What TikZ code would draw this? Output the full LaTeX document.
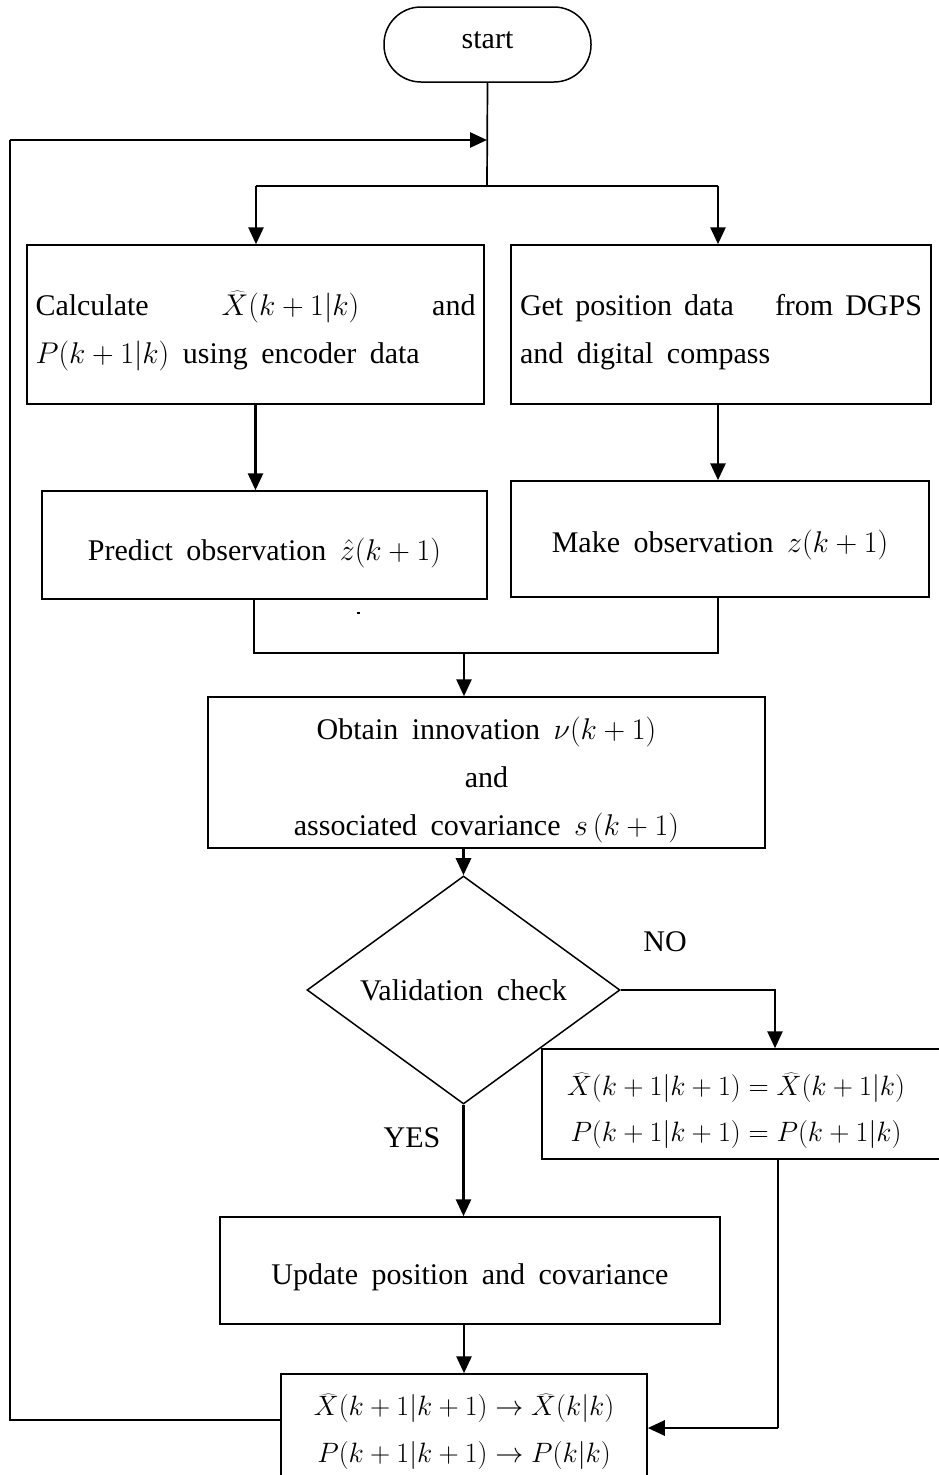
\RequirePackage{fix-cm}
\documentclass[tikz,border=0pt]{standalone}
\usepackage[no-math]{fontspec}
\setmainfont{Liberation Serif}
\usetikzlibrary{arrows.meta,shapes.geometric}
\newcommand{\fsz}{\fontsize{30}{48}\selectfont\spaceskip=0.45em plus 0.05em\relax}
\newcommand{\msz}{\fontsize{28}{46}\selectfont}
% text block moved down by #1 without changing the node's measured size
\newcommand{\lowtxt}[2][5pt]{\raisebox{-#1}[\height][\depth]{\begin{tabular}{@{}c@{}}#2\end{tabular}}}
\begin{document}
\begin{tikzpicture}[x=1pt,y=-1pt,
  box/.style={draw, line width=1.5pt, inner sep=0pt, font=\fsz},
  thinln/.style={line width=1.7pt},
  arr/.style={line width=2.8pt, -{Triangle[length=17pt,width=15pt]}},
  lbl/.style={font=\fsz, inner sep=0pt}]
\useasboundingbox (0,0) rectangle (938,1475);

% nodes
\node[box, rounded corners=37pt, minimum width=207pt, minimum height=75pt] (start) at (487.5,44.5) {\lowtxt[-6pt]{start}};

\node[box, minimum width=457pt, minimum height=159pt] (calc) at (255.5,324.5)
  {\lowtxt{\hbox to 440pt{Calculate\hfill$\widehat{X}(k+1|k)$\hfill and}\\
   \hbox to 440pt{$P(k+1|k)$ using encoder data\hfill}}};

\node[box, minimum width=420pt, minimum height=159pt] (dgps) at (721,324.5)
  {\lowtxt{\hbox to 402pt{Get\hspace{12pt}position\hspace{12pt}data\hfill from\hspace{12pt}DGPS}\\
   \hbox to 402pt{and digital compass\hfill}}};

\node[box, minimum width=445pt, minimum height=108pt] (pred) at (264.5,545)
  {\lowtxt[6pt]{Predict observation $\hat{z}(k+1)$}};

\node[box, minimum width=418pt, minimum height=116pt] (obs) at (720,539)
  {\lowtxt[4pt]{Make observation $z(k+1)$}};

\node[box, minimum width=557pt, minimum height=151pt] (innov) at (486.5,772.5)
  {\lowtxt{Obtain innovation $\nu(k+1)$\\ and\\ associated covariance $s\,(k+1)$}};

\node[draw, line width=1.5pt, shape=diamond, minimum width=313pt, minimum height=193pt,
  inner sep=0pt, font=\fsz] (valid) at (463.5,990) {Validation check};

\node[box, minimum width=403pt, minimum height=110pt, font=\msz] (keep) at (743.5,1104)
  {\lowtxt{$\widehat{X}(k+1|k+1) = \widehat{X}(k+1|k)$\rule{15pt}{0pt}\\
   $P(k+1|k+1) = P(k+1|k)$\rule{15pt}{0pt}}};

\node[lbl] (no) at (665,942) {NO};
\node[lbl] (yes) at (412,1138) {YES};

\node[box, minimum width=500pt, minimum height=107pt] (upd) at (470,1270.5)
  {\lowtxt[4pt]{Update position and covariance}};

\node[box, minimum width=366pt, minimum height=112pt, font=\fontsize{28}{47}\selectfont] (store) at (464,1430)
  {\lowtxt[0pt]{$\widehat{X}(k+1|k+1)\to\widehat{X}(k|k)$\\ $P(k+1|k+1)\to P(k|k)$}};

% junction coordinates
\coordinate (jtop) at (487,186);
\coordinate (jl) at (256,186);
\coordinate (jr) at (718,186);
\coordinate (ml) at (254,653);
\coordinate (mr) at (718,653);
\coordinate (mm) at (464,653);
\coordinate (nob) at (775,990);
\coordinate (rb) at (778,1428);
\coordinate (lb) at (10,1420);
\coordinate (lt) at (10,140);

% connectors
\draw[thinln] (start.south) -- (jtop);
\draw[thinln] (jl) -- (jr);
\draw[arr] (jl) -- (jl |- calc.north);
\draw[arr] (jr) -- (jr |- dgps.north);
\draw[arr] (calc.south) -- (calc.south |- pred.north);
\draw[arr] (jr |- dgps.south) -- (jr |- obs.north);
\draw[thinln] (ml |- pred.south) -- (ml) -- (mr) -- (mr |- obs.south);
\fill (356.5,612) rectangle (359.5,614);
\draw[arr] (mm) -- (mm |- innov.north);
\draw[arr] (valid.north |- innov.south) -- (valid.north);
\draw[arr] (valid.east) -- (nob) -- (nob |- keep.north);
\draw[arr] (valid.south) -- (valid.south |- upd.north);
\draw[arr] (store.north |- upd.south) -- (store.north);
\draw[thinln] (rb |- keep.south) -- (rb);
\draw[arr] (rb) -- (rb -| store.east);
\draw[thinln] (lb -| store.west) -- (lb) -- (lt);
\draw[arr] (lt) -- (lt -| jtop);
\end{tikzpicture}
\end{document}
